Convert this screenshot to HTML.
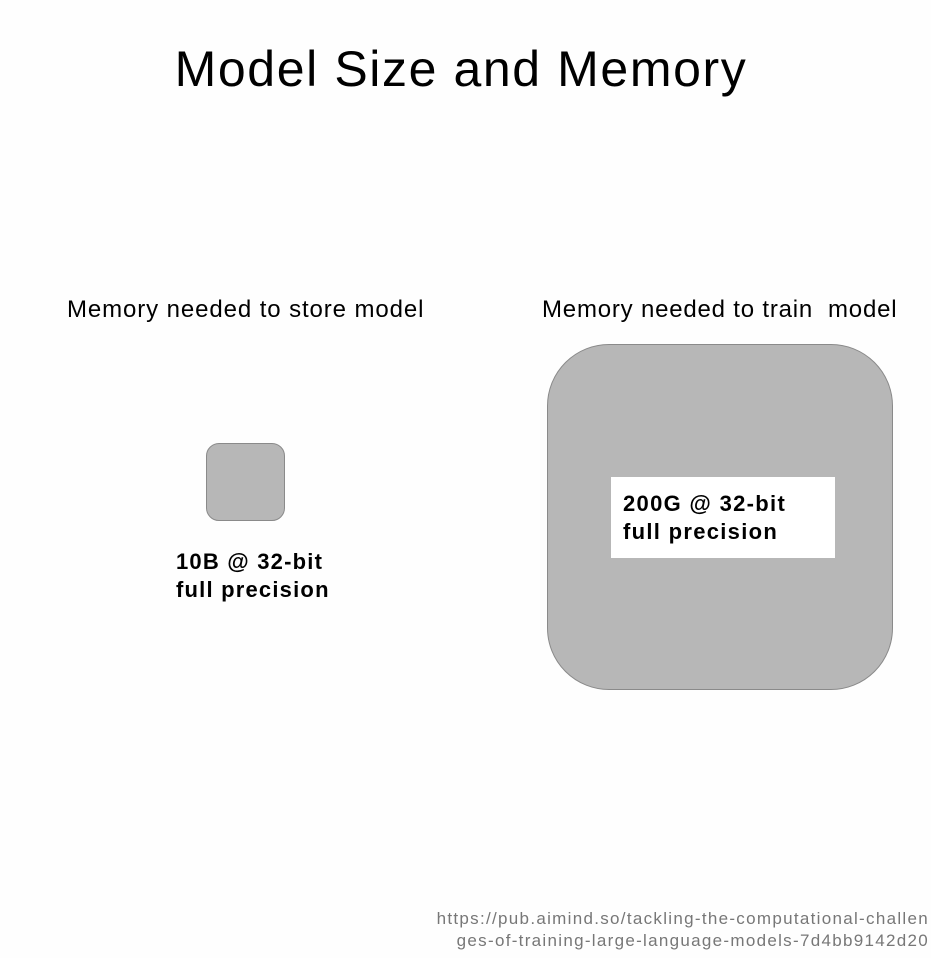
<!DOCTYPE html>
<html><head><style>
body{margin:0;width:931px;height:958px;background:#fefefe;position:relative;overflow:hidden;font-family:"Liberation Sans",sans-serif;color:#000}
.a{position:absolute;white-space:nowrap}
</style></head><body>
<div class="a" style="left:0;width:922px;text-align:center;top:40px;font-size:50px;letter-spacing:1.6px">Model Size and Memory</div>
<div class="a" style="left:67px;top:296px;font-size:24px;letter-spacing:0.9px">Memory needed to store model</div>
<div class="a" style="left:542px;top:296px;font-size:24px;letter-spacing:0.8px">Memory needed to train&nbsp; model</div>
<div class="a" style="left:206px;top:443px;width:77px;height:76px;background:#b7b7b7;border:1px solid #8a8a8a;border-radius:13px"></div>
<div class="a" style="left:176px;top:548px;font-size:22px;font-weight:bold;line-height:28px;letter-spacing:1.2px">10B @ 32-bit<br>full precision</div>
<div class="a" style="left:547px;top:344px;width:344px;height:344px;background:#b7b7b7;border:1px solid #8a8a8a;border-radius:62px"></div>
<div class="a" style="left:611px;top:477px;width:224px;height:81px;background:#fff"></div>
<div class="a" style="left:623px;top:490px;font-size:22px;font-weight:bold;line-height:28px;letter-spacing:1.3px">200G @ 32-bit<br>full precision</div>
<div class="a" style="right:2px;top:908px;font-size:17px;color:#777;text-align:right;line-height:22px;letter-spacing:1.3px">https://pub.aimind.so/tackling-the-computational-challen<br>ges-of-training-large-language-models-7d4bb9142d20</div>
</body></html>
